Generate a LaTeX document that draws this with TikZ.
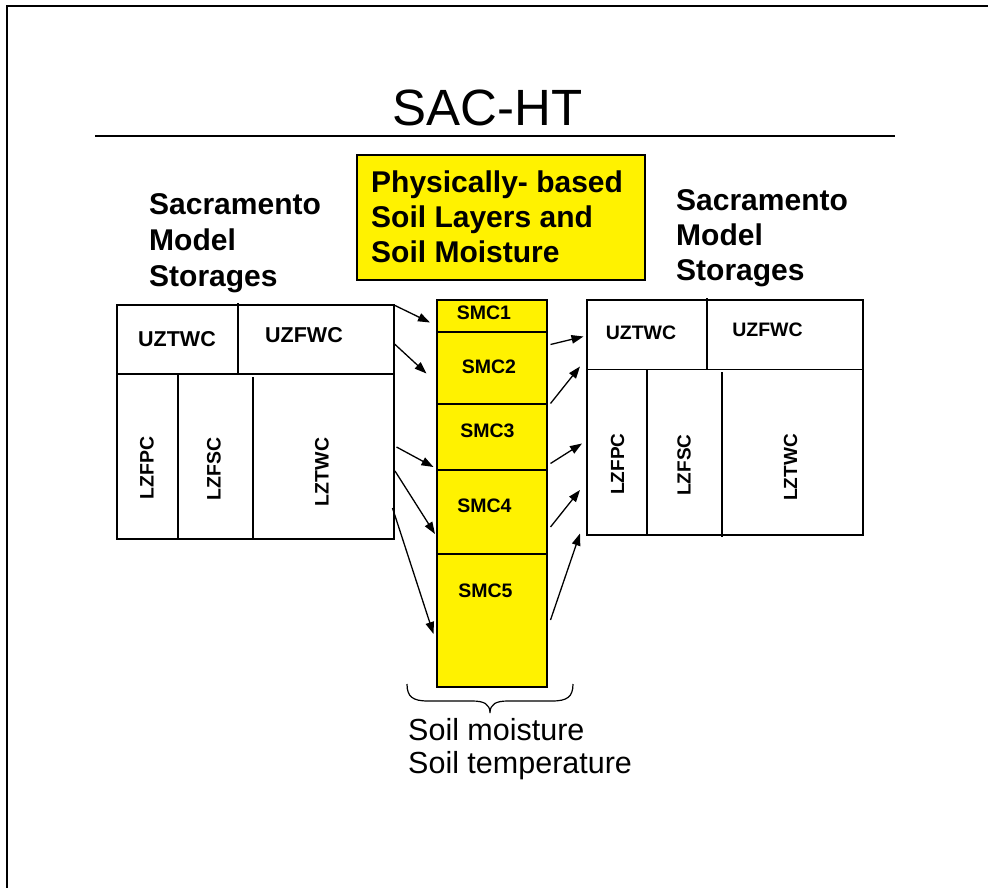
\documentclass[tikz,border=0pt]{standalone}
\usepackage{fontspec}
\setmainfont{Liberation Sans}
\usetikzlibrary{arrows.meta}
\begin{document}
\begin{tikzpicture}[x=1pt,y=-1pt,
  ln/.style={line width=1.3pt, draw=black},
  arr/.style={line width=1.3pt, -{Triangle[length=12pt,width=8.5pt]}},
  lbl/.style={anchor=base west, inner sep=0pt, font=\bfseries\fontsize{30}{36}\selectfont},
  ucellL/.style={anchor=base, inner sep=0pt, font=\bfseries\fontsize{21.5}{25}\selectfont},
  ucellR/.style={anchor=base, inner sep=0pt, font=\bfseries\fontsize{19.5}{24}\selectfont},
  vcellL/.style={rotate=90, inner sep=0pt, font=\bfseries\fontsize{19.5}{24}\selectfont},
  vcellR/.style={rotate=90, inner sep=0pt, font=\bfseries\fontsize{19}{24}\selectfont},
  smc/.style={anchor=base, inner sep=0pt, font=\bfseries\fontsize{19.5}{23}\selectfont},
  layer/.style={ln, fill=yellow, minimum width=110pt, inner sep=0pt, outer sep=0pt},
  plain/.style={anchor=base west, inner sep=0pt, font=\fontsize{30.5}{33}\selectfont},
]
\useasboundingbox (0,0) rectangle (988,888);
% frame (top and left edges)
\draw[line width=2pt] (6.5,888) -- (6.5,6.5) -- (988,6.5);

% title
\node[anchor=base, inner sep=0pt, font=\fontsize{51}{60}\selectfont] (title) at (487.5,126) {SAC-HT};
\coordinate (ulA) at (95,136);
\coordinate (ulB) at (895,136);
\draw[line width=1.3pt] (ulA) -- (ulB);

% left label
\node[lbl] (ls1) at (149,214) {Sacramento};
\node[lbl] (ls2) at (149,250) {Model};
\node[lbl] (ls3) at (149,286) {Storages};

% right label
\node[lbl] (rs1) at (676,210) {Sacramento};
\node[lbl] (rs2) at (676,245) {Model};
\node[lbl] (rs3) at (676,280) {Storages};

% yellow heading box
\node[ln, fill=yellow, minimum width=288pt, minimum height=125pt, inner sep=0pt] (hbox) at (501,217.5) {};
\node[lbl] (h1) at (371,192) {Physically- based};
\node[lbl] (h2) at (371,227) {Soil Layers and};
\node[lbl] (h3) at (371,262) {Soil Moisture};

% left storages box
\node[ln, minimum width=277pt, minimum height=234pt, inner sep=0pt, outer sep=0pt] (lbox) at (255.5,422) {};
\draw[ln] (117,374) -- (394,374);
\draw[ln] (238,303) -- (238,374);
\draw[ln] (178,374) -- (178,539);
\draw[ln] (253,377) -- (253,540);
\node[ucellL] (luztwc) at (177,346) {UZTWC};
\node[ucellL] (luzfwc) at (304,342) {UZFWC};
\node[vcellL] (llzfpc) at (147,468) {LZFPC};
\node[vcellL] (llzfsc) at (214,469) {LZFSC};
\node[vcellL] (llztwc) at (322,472) {LZTWC};

% soil layers column
\node[layer, minimum height=32pt] (c1) at (492,316) {};
\node[layer, minimum height=72pt] (c2) at (492,368) {};
\node[layer, minimum height=66pt] (c3) at (492,437) {};
\node[layer, minimum height=84pt] (c4) at (492,512) {};
\node[layer, minimum height=133pt] (c5) at (492,620.5) {};
\node[smc] (s1) at (484,319.5) {SMC1};
\node[smc] (s2) at (489,373.5) {SMC2};
\node[smc] (s3) at (487.5,437) {SMC3};
\node[smc] (s4) at (484.5,512) {SMC4};
\node[smc] (s5) at (485.5,597) {SMC5};

% right storages box
\node[ln, minimum width=276pt, minimum height=235pt, inner sep=0pt, outer sep=0pt] (rbox) at (725,417.5) {};
\draw[ln] (587,369.5) -- (863,369.5);
\draw[ln] (707,298) -- (707,369.5);
\draw[ln] (647,370) -- (647,535);
\draw[ln] (722,372) -- (722,537);
\node[ucellR] (ruztwc) at (641,339.5) {UZTWC};
\node[ucellR] (ruzfwc) at (767.5,336) {UZFWC};
\node[vcellR] (rlzfpc) at (617.5,464) {LZFPC};
\node[vcellR] (rlzfsc) at (684,465) {LZFSC};
\node[vcellR] (rlztwc) at (790.5,467.5) {LZTWC};

% arrow end points
\coordinate (a1s) at (394,305);   \coordinate (a1e) at (430,322.5);
\coordinate (a2s) at (394,343.5); \coordinate (a2e) at (426.5,373.5);
\coordinate (a3s) at (396.5,447); \coordinate (a3e) at (433.5,467);
\coordinate (a4s) at (395,471);   \coordinate (a4e) at (435,534);
\coordinate (a5s) at (392.5,508); \coordinate (a5e) at (433.5,634);
\coordinate (b1s) at (550.5,344.5); \coordinate (b1e) at (583.5,336.5);
\coordinate (b2s) at (550.5,403.5); \coordinate (b2e) at (580,366.5);
\coordinate (b3s) at (550.5,463.5); \coordinate (b3e) at (582,443.5);
\coordinate (b4s) at (550.5,527);   \coordinate (b4e) at (580,490);
\coordinate (b5s) at (550.5,620);   \coordinate (b5e) at (580,533.5);
\draw[arr] (a1s) -- (a1e);
\draw[arr] (a2s) -- (a2e);
\draw[arr] (a3s) -- (a3e);
\draw[arr] (a4s) -- (a4e);
\draw[arr] (a5s) -- (a5e);
\draw[arr] (b1s) -- (b1e);
\draw[arr] (b2s) -- (b2e);
\draw[arr] (b3s) -- (b3e);
\draw[arr] (b4s) -- (b4e);
\draw[arr] (b5s) -- (b5e);

% brace
\coordinate (brL) at (407,684);
\coordinate (brR) at (573,684);
\coordinate (brT) at (490,713);
\draw[line width=1.2pt] (brL) .. controls (407,697) and (413,701) .. (428,701) -- (472,701)
  .. controls (484,701) and (490,704) .. (brT)
  .. controls (490,704) and (496,701) .. (508,701) -- (552,701)
  .. controls (567,701) and (573,697) .. (brR);

\node[plain] (sm) at (408,740) {Soil moisture};
\node[plain] (st) at (408,773) {Soil temperature};
\end{tikzpicture}
\end{document}
